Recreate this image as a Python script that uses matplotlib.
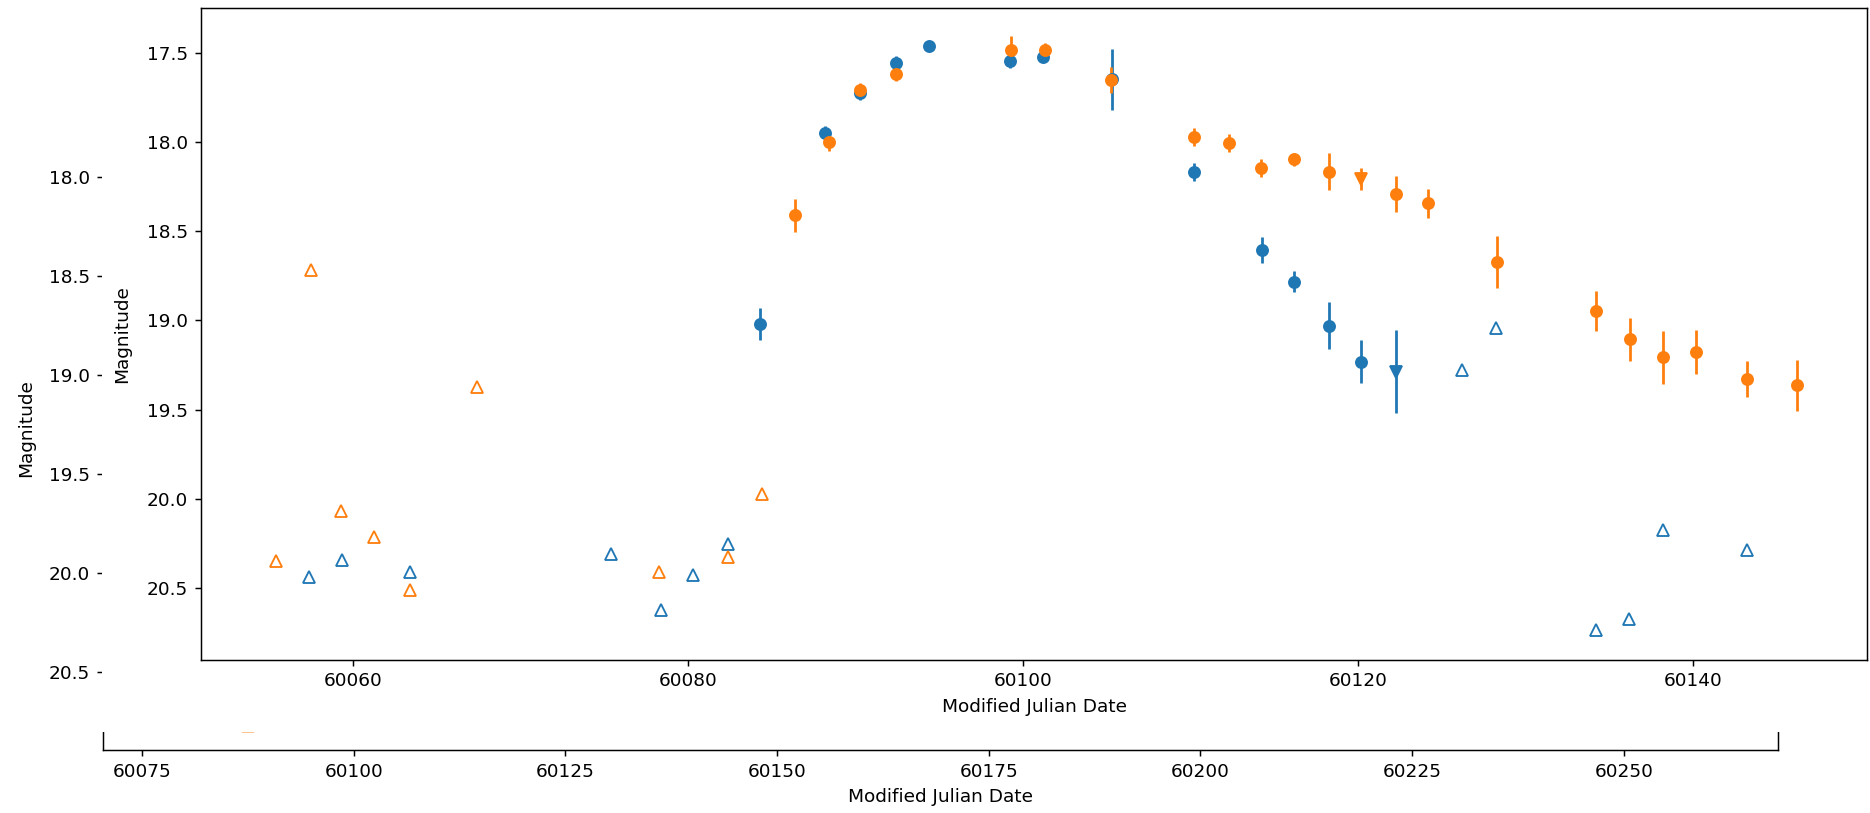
import numpy as np
import matplotlib
matplotlib.use("Agg")
import matplotlib.pyplot as plt
from matplotlib.patches import Rectangle

# detections (blue)
blue_mjd = [60084.3, 60088.2, 60090.3, 60092.4, 60094.4, 60099.2, 60101.2,
            60105.3, 60110.2, 60114.3, 60116.2, 60118.25, 60120.2]
blue_mag = [19.02, 17.945, 17.724, 17.552, 17.457, 17.54, 17.519,
            17.646, 18.165, 18.605, 18.782, 19.03, 19.232]
blue_err = [0.09, 0.035, 0.035, 0.04, 0.025, 0.04, 0.03,
            0.17, 0.05, 0.073, 0.06, 0.133, 0.12]
blue_v_mjd = [60122.3]
blue_v_mag = [19.288]
blue_v_err = [0.233]

# detections (orange)
orange_mjd = [60086.4, 60088.4, 60090.3, 60092.45, 60099.3, 60101.3, 60105.25,
              60110.2, 60112.3, 60114.2, 60116.2, 60118.25, 60122.3, 60124.2,
              60128.3, 60134.2, 60136.25, 60138.2, 60140.2, 60143.2, 60146.2]
orange_mag = [18.41, 17.998, 17.706, 17.616, 17.48, 17.48, 17.65,
              17.97, 18.005, 18.144, 18.095, 18.164, 18.29, 18.342,
              18.67, 18.947, 19.106, 19.207, 19.176, 19.33, 19.365]
orange_err = [0.093, 0.05, 0.04, 0.04, 0.08, 0.04, 0.075,
              0.05, 0.05, 0.05, 0.035, 0.106, 0.10, 0.08,
              0.145, 0.11, 0.12, 0.15, 0.125, 0.10, 0.145]
orange_v_mjd = [60120.2]
orange_v_mag = [18.206]
orange_v_err = [0.06]

# non-detections (open triangles)
blue_lim_mjd = [60057.35, 60059.37, 60063.41, 60075.38, 60078.4, 60080.29, 60082.42,
                60126.22, 60128.27, 60134.2, 60136.2, 60138.2, 60143.2]
blue_lim_mag = [20.44, 20.346, 20.41, 20.31, 20.627, 20.43, 20.256,
                19.28, 19.045, 20.739, 20.674, 20.178, 20.29]
orange_lim_mjd = [60055.43, 60057.47, 60059.27, 60061.28, 60063.41, 60067.38,
                  60078.26, 60082.42, 60084.43]
orange_lim_mag = [20.35, 18.717, 20.069, 20.215, 20.515, 19.372,
                  20.41, 20.33, 19.977]

# the plot lying underneath (only a sliver of it shows)
under_mjd = [60087.5]
under_mag = [20.77]

W, H, DPI = 1870, 813, 133
fig = plt.figure(figsize=(W / DPI, H / DPI), dpi=DPI)

def frac(left, top, right, bottom):
    return [left / W, 1 - bottom / H, (right - left) / W, (bottom - top) / H]

# back plot
ax0 = fig.add_axes(frac(103, 106, 1778, 750), zorder=0)
ax0.plot(under_mjd, under_mag, '^', color='C1', mfc='none', alpha=0.5)
ax0.set_xlim(60070.4, 60268.2)
ax0.set_ylim(20.891, 17.643)
ax0.ticklabel_format(useOffset=False)
ax0.set_xlabel("Modified Julian Date")
ax0.set_ylabel("Magnitude", labelpad=7.5)

# white page of the front plot
cover = Rectangle((102 / W, 1 - 732 / H), 1, 1, transform=fig.transFigure,
                  facecolor='white', edgecolor='none', zorder=0.5)
fig.add_artist(cover)

# front plot
ax1 = fig.add_axes(frac(201, 7.8, 1867, 659.5), zorder=1)
ax1.errorbar(blue_mjd, blue_mag, yerr=blue_err, fmt='o', color='C0')
ax1.errorbar(blue_v_mjd, blue_v_mag, yerr=blue_v_err, fmt='v', color='C0')
ax1.errorbar(orange_mjd, orange_mag, yerr=orange_err, fmt='o', color='C1')
ax1.errorbar(orange_v_mjd, orange_v_mag, yerr=orange_v_err, fmt='v', color='C1')
ax1.plot(blue_lim_mjd, blue_lim_mag, '^', color='C0', mfc='none')
ax1.plot(orange_lim_mjd, orange_lim_mag, '^', color='C1', mfc='none')
ax1.set_xlim(60050.93, 60150.39)
ax1.set_ylim(20.904, 17.244)
ax1.ticklabel_format(useOffset=False)
ax1.set_xlabel("Modified Julian Date")
ax1.set_ylabel("Magnitude", labelpad=8.5)

fig.savefig("out.png", dpi=DPI)
